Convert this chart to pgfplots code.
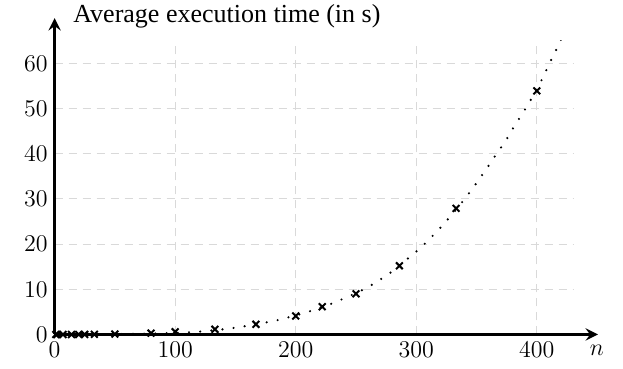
\documentclass[border=0pt]{standalone}
\usepackage[no-math]{fontspec}
\setmainfont{Liberation Serif}
\usepackage{pgfplots}
\pgfplotsset{compat=1.18}
\begin{document}
\begin{tikzpicture}
\begin{axis}[
  name=ax,
  scale only axis,
  width=259.2pt, height=146.9pt,
  xmin=0, xmax=430, ymin=0, ymax=65,
  axis lines=left,
  axis line style={line width=1.7pt},
  x axis line style={-stealth, shorten >=-12.5pt},
  y axis line style={-stealth, shorten >=-11.3pt},
  xtick={0,100,200,300,400},
  ytick={0,10,20,30,40,50,60},
  major tick length=0pt,
  tick label style={font=\fontsize{13}{15}\selectfont},
  grid=major,
  grid style={gray!30, line width=0.55pt, dash pattern=on 4.2pt off 2.8pt},
  xlabel={$n$},
  every axis x label/.style={at={(axis description cs:1,0)}, anchor=north, xshift=12pt, yshift=-2.0pt, font=\fontsize{13}{15}\selectfont},
  ylabel={Average execution time (in s)},
  every axis y label/.style={at={(axis description cs:0,1)}, anchor=base west, inner sep=0pt, xshift=9.2pt, yshift=8.85pt, font=\fontsize{13}{15}\selectfont},
  clip=true,
]
\addplot[black, line width=1.2pt, dash pattern=on 0pt off 5.6pt, line cap=round] coordinates {
(0,0) (50,0.05) (80,0.2) (100,0.35) (112,0.5) (121,0.65) (130,0.9) (140,1.15) (148.6,1.45) (158.3,1.85)
(167,2.2) (176.2,2.7) (185.3,3.2) (194,3.8) (202.5,4.4) (212.4,5.2) (221,6.0) (229.6,6.8) (238.5,7.8)
(247,8.8) (255.3,9.85) (263.2,11.0) (271,12.3) (278.7,13.7) (286,15.2) (293,16.8) (300.2,18.4) (307.1,20.1)
(313.5,21.8) (319.9,23.6) (326.2,25.5) (332,27.3) (337.8,29.2) (343.6,31.2) (349.1,33.2) (354.4,35.2)
(359.9,37.3) (364.9,39.3) (370.1,41.3) (375.4,43.4) (380,45.5) (385,47.6) (390,49.7) (394.7,51.8)
(399.5,54.0) (404,56.3) (407.9,58.5) (411.8,60.7) (415.7,62.8) (419.5,64.9) (421,65.8)
};
\addplot[black, only marks, mark=x, mark size=2.4pt, mark options={line width=1pt}] coordinates {
(1,0) (2,0) (7,0) (14,0) (20,0.01) (25,0.02) (33,0.04) (50,0.1) (80,0.3) (100,0.6)
(133,1.15) (167,2.25) (200,4.1) (222,6.15) (250,9.0) (286,15.2) (333,27.9) (400,53.9)
};
\end{axis}
\pgfresetboundingbox
\path (-27.3pt,-17.25pt) rectangle (284.2pt,167.25pt);
\end{tikzpicture}
\end{document}
